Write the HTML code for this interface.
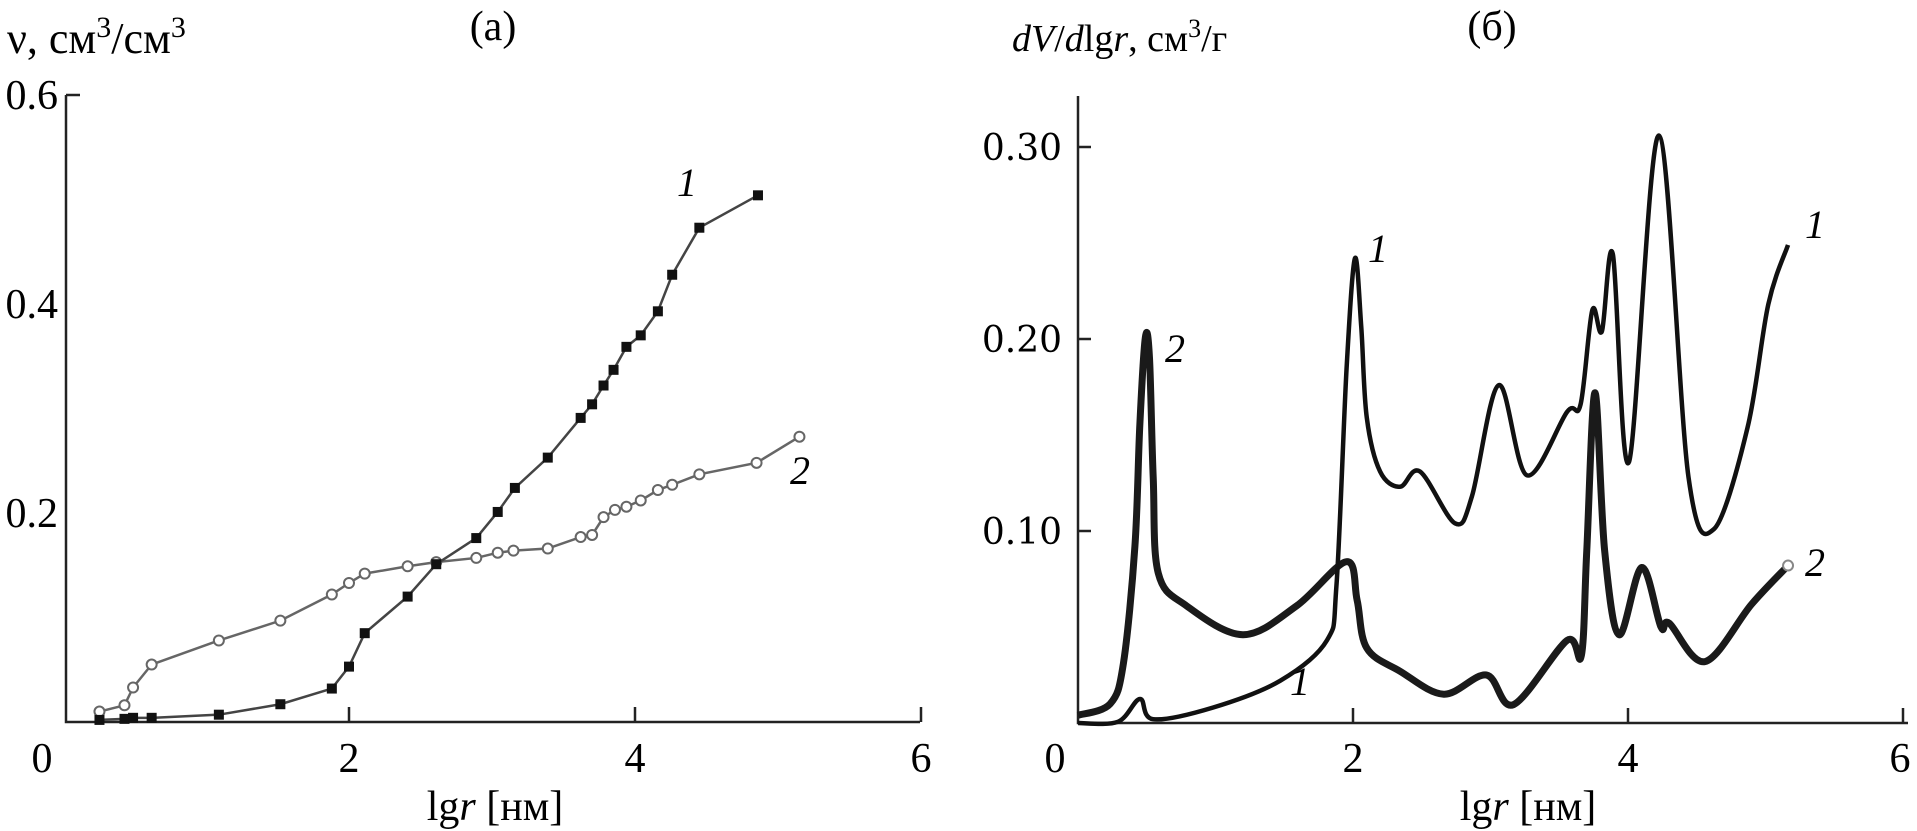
<!DOCTYPE html>
<html><head><meta charset="utf-8"><style>
html,body{margin:0;padding:0;background:#fff;}
svg{display:block;font-family:"Liberation Serif","DejaVu Serif",serif;}
</style></head><body>
<svg width="1917" height="831" viewBox="0 0 1917 831">
<g id="chartA"></g>
<g id="chartB"></g>
</svg>
<script>
// ---- Chart (a) data ----
const aX1 = [0.255,0.43,0.49,0.62,1.09,1.52,1.88,2.0,2.11,2.41,2.61,2.89,3.04,3.16,3.39,3.62,3.70,3.78,3.85,3.94,4.04,4.16,4.26,4.45,4.86];
const aY1 = [0.002,0.003,0.004,0.004,0.007,0.017,0.032,0.053,0.085,0.12,0.151,0.176,0.201,0.224,0.253,0.291,0.304,0.322,0.337,0.359,0.370,0.393,0.428,0.473,0.504];
const aX2 = [0.255,0.43,0.49,0.62,1.09,1.52,1.88,2.0,2.11,2.41,2.61,2.89,3.04,3.15,3.39,3.62,3.70,3.78,3.86,3.94,4.04,4.16,4.26,4.45,4.85,5.15];
const aY2 = [0.010,0.016,0.033,0.055,0.078,0.097,0.122,0.133,0.142,0.149,0.153,0.157,0.162,0.164,0.166,0.177,0.179,0.196,0.203,0.206,0.212,0.222,0.227,0.237,0.248,0.273];
const aXTicks = ["0","2","4","6"];
const aYTicks = ["0.2","0.4","0.6"];
// ---- Chart (b) data ----
const bX1 = [0,0.29,0.45,0.547,0.98,1.47,1.81,1.88,1.953,2.014,2.06,2.10,2.197,2.342,2.487,2.742,2.865,3.06,3.265,3.556,3.655,3.74,3.81,3.89,4.007,4.225,4.44,4.625,4.87,5.02,5.164];
const bY1 = [0,0.0006,0.0125,0.002,0.008,0.022,0.043,0.072,0.184,0.242,0.206,0.159,0.131,0.123,0.131,0.104,0.118,0.176,0.129,0.162,0.166,0.215,0.204,0.244,0.136,0.306,0.128,0.101,0.154,0.218,0.249];
const bX2 = [0,0.234,0.33,0.414,0.45,0.49,0.52,0.547,0.584,0.79,1.2,1.59,1.953,2.03,2.1,2.342,2.66,2.97,3.168,3.556,3.66,3.70,3.76,3.83,3.935,4.10,4.24,4.30,4.56,4.90,5.164];
const bY2 = [0.004,0.010,0.031,0.092,0.156,0.201,0.19,0.128,0.078,0.061,0.046,0.061,0.084,0.064,0.039,0.027,0.015,0.025,0.0096,0.043,0.035,0.09,0.172,0.09,0.046,0.081,0.050,0.052,0.032,0.062,0.082];
const bXTicks = ["0","2","4","6"];
const bYTicks = ["0.10","0.20","0.30"];

const NS="http://www.w3.org/2000/svg";
function mk(parent,tag,attrs,text){const e=document.createElementNS(NS,tag);for(const k in attrs)e.setAttribute(k,attrs[k]);if(text!==undefined)e.textContent=text;parent.appendChild(e);return e;}
function smooth(pts){let d="M"+pts[0][0]+","+pts[0][1];for(let i=0;i<pts.length-1;i++){const p0=pts[Math.max(0,i-1)],p1=pts[i],p2=pts[i+1],p3=pts[Math.min(pts.length-1,i+2)];const c1=[p1[0]+(p2[0]-p0[0])/6,p1[1]+(p2[1]-p0[1])/6],c2=[p2[0]-(p3[0]-p1[0])/6,p2[1]-(p3[1]-p1[1])/6];d+=" C"+c1[0].toFixed(1)+","+c1[1].toFixed(1)+" "+c2[0].toFixed(1)+","+c2[1].toFixed(1)+" "+p2[0].toFixed(1)+","+p2[1].toFixed(1);}return d;}

// ---- Chart A ----
(function(){
const g=document.getElementById('chartA');
const ax=v=>63+v*143, ay=v=>722-v*1045;
let e;
e=mk(g,'path',{d:"M66,95 L66,722 L920,722",fill:"none",stroke:"#222","stroke-width":2.5});


e=mk(g,'line',{x1:66,x2:80,y1:95,y2:95,stroke:"#222","stroke-width":2.5});


aXTicks.forEach((t,i)=>{const v=+t;const x=ax(v);
 if(v>0){e=mk(g,'line',{x1:x,x2:x,y1:722,y2:707,stroke:"#222","stroke-width":2.5});
 
 }
 e=mk(g,'text',{x:v===0?42:x,y:772,"text-anchor":"middle","font-size":42},t);
 
 });
aYTicks.forEach(t=>{const y=ay(+t);
 e=mk(g,'text',{x:58,y:y+14,"text-anchor":"end","font-size":42},t);
 
 });
e=mk(g,'polyline',{points:aX2.map((x,i)=>ax(x)+","+ay(aY2[i])).join(" "),fill:"none",stroke:"#666","stroke-width":2.5});


aX2.forEach((x,i)=>{e=mk(g,'circle',{cx:ax(x),cy:ay(aY2[i]),r:5,fill:"#fff",stroke:"#666","stroke-width":2});
 
 });
e=mk(g,'polyline',{points:aX1.map((x,i)=>ax(x)+","+ay(aY1[i])).join(" "),fill:"none",stroke:"#444","stroke-width":2.5});


aX1.forEach((x,i)=>{e=mk(g,'rect',{x:ax(x)-5,y:ay(aY1[i])-5,width:10,height:10,fill:"#111"});
 
 });
e=mk(g,'text',{x:687,y:196,"font-size":40,"font-style":"italic","text-anchor":"middle"},"1");


e=mk(g,'text',{x:800,y:484,"font-size":40,"font-style":"italic","text-anchor":"middle"},"2");


e=mk(g,'text',{x:7,y:53,"font-size":44},"ν, см");


const ts=e; mk(ts,'tspan',{dy:-16,"font-size":30},"3"); mk(ts,'tspan',{dy:16},"/см"); mk(ts,'tspan',{dy:-16,"font-size":30},"3");
e=mk(g,'text',{x:493,y:40,"font-size":42,"text-anchor":"middle"},"(а)");


e=mk(g,'text',{x:495,y:820,"font-size":42,"text-anchor":"middle"},"lg");


mk(e,'tspan',{"font-style":"italic"},"r"); mk(e,'tspan',{}," [нм]");
})();

// ---- Chart B ----
(function(){
const g=document.getElementById('chartB');
const bx=v=>1078+v*137.5, by=v=>723-v*1920;
let e;
e=mk(g,'path',{d:"M1078,96 L1078,723 L1908,723",fill:"none",stroke:"#222","stroke-width":2.5});


bXTicks.forEach(t=>{const v=+t;const x=bx(v);
 if(v>0){e=mk(g,'line',{x1:x,x2:x,y1:723,y2:708,stroke:"#222","stroke-width":2.5});
 
 }
 e=mk(g,'text',{x:v===0?1055:Math.min(x,1900),y:772,"text-anchor":"middle","font-size":42},t);
 
 });
bYTicks.forEach(t=>{const y=by(+t);
 e=mk(g,'line',{x1:1078,x2:1091,y1:y,y2:y,stroke:"#222","stroke-width":2.5});
 
 
 e=mk(g,'text',{x:1062,y:y+13,"text-anchor":"end","font-size":36,"font-family":"DejaVu Serif, serif"},t);
 
 });
e=mk(g,'path',{d:smooth(bX2.map((x,i)=>[bx(x),by(bY2[i])])),fill:"none",stroke:"#1a1a1a","stroke-width":7,"stroke-linejoin":"round"});


e=mk(g,'path',{d:smooth(bX1.map((x,i)=>[bx(x),by(bY1[i])])),fill:"none",stroke:"#111","stroke-width":4.5,"stroke-linejoin":"round"});


e=mk(g,'circle',{cx:bx(bX2[bX2.length-1]),cy:by(bY2[bY2.length-1]),r:5,fill:"#fff",stroke:"#888","stroke-width":2});


[[1378,262,"1"],[1175,362,"2"],[1300,695,"1"],[1815,238,"1"],[1815,576,"2"]].forEach(l=>{
 e=mk(g,'text',{x:l[0],y:l[1],"font-size":40,"font-style":"italic","text-anchor":"middle"},l[2]);
 
 });
e=mk(g,'text',{x:1012,y:51,"font-size":38},"");


mk(e,'tspan',{"font-style":"italic"},"dV"); mk(e,'tspan',{},"/"); mk(e,'tspan',{"font-style":"italic"},"d"); mk(e,'tspan',{},"lg"); mk(e,'tspan',{"font-style":"italic"},"r"); mk(e,'tspan',{},", см"); mk(e,'tspan',{dy:-14,"font-size":26},"3"); mk(e,'tspan',{dy:14},"/г");
e=mk(g,'text',{x:1492,y:40,"font-size":42,"text-anchor":"middle"},"(б)");


e=mk(g,'text',{x:1528,y:820,"font-size":42,"text-anchor":"middle"},"lg");


mk(e,'tspan',{"font-style":"italic"},"r"); mk(e,'tspan',{}," [нм]");
})();
</script>
</body></html>
